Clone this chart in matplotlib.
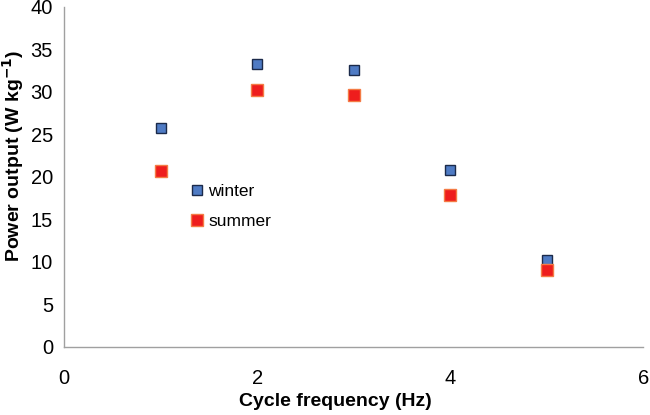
import matplotlib.pyplot as plt

plt.rcParams['font.family'] = ['Liberation Sans', 'DejaVu Sans']

freq = [1, 2, 3, 4, 5]
winter = [25.7, 33.3, 32.5, 20.8, 10.2]
summer = [20.7, 30.2, 29.6, 17.9, 9.1]

fig = plt.figure(figsize=(6.5, 4.15), dpi=100)
ax = fig.add_axes([0.0985, 0.164, 0.891, 0.82])

ax.plot(freq, winter, 's', ms=7.3, mfc='#4F7BC4', mec='#1B2A4A', mew=1.0, label='winter')
ax.plot(freq, summer, 's', ms=8, mfc='#EE1D1D', mec='#F47B45', mew=1.0, label='summer')

ax.set_xlim(0, 6)
ax.set_ylim(0, 40)
ax.set_xticks([0, 2, 4, 6])
ax.set_yticks(range(0, 41, 5))
ax.tick_params(length=0, labelsize=14.5, pad=8)
ax.tick_params(axis='x', pad=16)

for side in ['top', 'right']:
    ax.spines[side].set_visible(False)
for side in ['left', 'bottom']:
    ax.spines[side].set_color('#A0A0A0')
    ax.spines[side].set_linewidth(1.0)

ax.set_xlabel('Cycle frequency (Hz)', fontsize=14, fontweight='bold')
ax.set_ylabel('Power output (W kg$^{\\mathbf{-1}}$)', fontsize=14, fontweight='bold')
# labels sit a little off-centre in the original
ax.xaxis.set_label_coords(0.468, -0.135)
ax.yaxis.set_label_coords(-0.066, 0.56)

ax.legend(loc='upper left', bbox_to_anchor=(0.2, 0.5), frameon=False, fontsize=12.5,
          handletextpad=0.05, labelspacing=0.85, borderaxespad=0, handlelength=1.2)

fig.savefig('out.png', dpi=100)
